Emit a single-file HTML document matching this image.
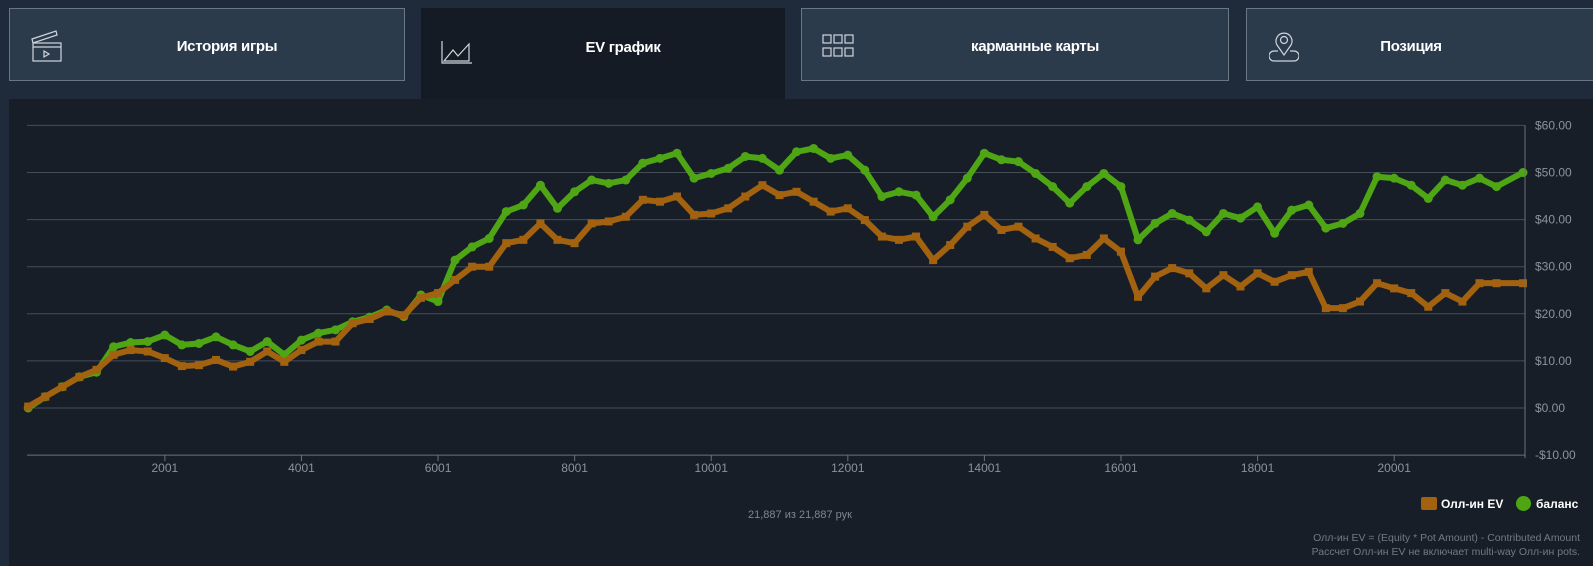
<!DOCTYPE html>
<html><head><meta charset="utf-8">
<style>
html,body{margin:0;padding:0;background:#1f2b3a;width:1593px;height:566px;overflow:hidden;font-family:"Liberation Sans","DejaVu Sans",sans-serif;}
.tab{position:absolute;top:8px;height:73px;background:#2c3b4c;border:1px solid #6a7684;box-sizing:border-box;color:#fff;font-weight:bold;font-size:15px;letter-spacing:-0.3px;}
.tab.active{background:#151b24;border:none;height:92px;}
.tab .lbl{position:absolute;top:4px;bottom:0;display:flex;align-items:center;justify-content:center;left:0;right:0;}
.tab svg{position:absolute;}
#panel{position:absolute;left:9px;top:99px;width:1584px;height:467px;background:#181e28;}
</style></head><body>
<div class="tab" style="left:9px;width:396px;">
 <svg style="left:20px;top:20px" width="34" height="34" viewBox="0 0 34 34" fill="none" stroke="#cfd6de" stroke-width="1.2"><path d="M2 10 L26 2 L27 6 L3 14 Z"/><rect x="3" y="14" width="28" height="18"/><line x1="3" y1="18" x2="31" y2="18"/><path d="M14 22 L19 25 L14 28 Z"/></svg>
 <div class="lbl" style="left:40px">История игры</div></div>
<div class="tab active" style="left:421px;width:364px;">
 <svg style="left:20px;top:32px" width="32" height="24" viewBox="0 0 32 24" fill="none" stroke="#cfd6de" stroke-width="1.2"><path d="M1 1 V23 H31"/><path d="M3 21 L12 10 L17 16 L28 4 V21 Z"/></svg>
 <div class="lbl" style="top:0;height:78px;left:40px">EV график</div></div>
<div class="tab" style="left:801px;width:428px;">
 <svg style="left:20px;top:25px" width="34" height="24" viewBox="0 0 34 24" fill="none" stroke="#cfd6de" stroke-width="1.2"><rect x="1" y="1" width="8" height="8"/><rect x="12" y="1" width="8" height="8"/><rect x="23" y="1" width="8" height="8"/><rect x="1" y="14" width="8" height="8"/><rect x="12" y="14" width="8" height="8"/><rect x="23" y="14" width="8" height="8"/></svg>
 <div class="lbl" style="left:40px">карманные карты</div></div>
<div class="tab" style="left:1246px;width:370px;">
 <svg style="left:22px;top:22px" width="30" height="34" viewBox="0 0 30 34" fill="none" stroke="#cfd6de" stroke-width="1.2"><path d="M15 24 L8 14 A8 8 0 1 1 22 14 Z"/><circle cx="15" cy="9" r="3.5"/><path d="M9 20 H5 A3 3 0 0 0 5 30 H25 A3 3 0 0 0 25 20 H21"/></svg>
 <div class="lbl" style="left:0;right:40px">Позиция</div></div>
<div id="panel"></div>
<svg id="chart" width="1593" height="566" style="position:absolute;left:0;top:0" font-family="Liberation Sans, DejaVu Sans, sans-serif">
 <g id="grid"></g><g id="series"></g><g id="axes"></g>
 <text x="800" y="518" text-anchor="middle" font-size="11" fill="#7d8792">21,887 из 21,887 рук</text>
 <g>
  <rect x="1421" y="497" width="16" height="13" rx="2" fill="#a2620f"/>
  <text x="1441" y="508" font-size="12" font-weight="bold" fill="#fff">Олл-ин EV</text>
  <circle cx="1523.5" cy="503.5" r="7.5" fill="#4ea615"/>
  <text x="1536" y="508" font-size="12" font-weight="bold" fill="#fff">баланс</text>
 </g>
 <text x="1580" y="541" text-anchor="end" font-size="10.5" fill="#6f7a86">Олл-ин EV = (Equity * Pot Amount) - Contributed Amount</text>
 <text x="1580" y="555" text-anchor="end" font-size="10.5" fill="#6f7a86">Рассчет Олл-ин EV не включает multi-way Олл-ин pots.</text>
</svg>
<script>
const hands=[0,250,500,750,1000,1250,1500,1750,2000,2250,2500,2750,3000,3250,3500,3750,4000,4250,4500,4750,5000,5250,5500,5750,6000,6250,6500,6750,7000,7250,7500,7750,8000,8250,8500,8750,9000,9250,9500,9750,10000,10250,10500,10750,11000,11250,11500,11750,12000,12250,12500,12750,13000,13250,13500,13750,14000,14250,14500,14750,15000,15250,15500,15750,16000,16250,16500,16750,17000,17250,17500,17750,18000,18250,18500,18750,19000,19250,19500,19750,20000,20250,20500,20750,21000,21250,21500,21887];
const allinEV=[0.3,2.4,4.5,6.6,8.1,11.3,12.3,12,10.6,8.9,9.1,10.2,8.8,9.8,12,9.8,12.3,14.1,14.1,18,18.9,20.5,19.7,23.4,24.4,27.2,30,30,35,35.7,39.2,35.7,35,39.2,39.6,40.6,44.2,43.8,44.9,41,41.3,42.4,44.9,47.3,45.2,45.9,43.8,41.7,42.4,39.9,36.4,35.7,36.4,31.4,34.6,38.5,41,37.8,38.5,36,34.2,31.8,32.5,36,33.2,23.6,27.9,29.7,28.6,25.4,28.2,25.8,28.6,26.8,28.2,28.9,21.2,21.2,22.6,26.5,25.4,24.4,21.5,24.4,22.6,26.5,26.5,26.5];
const balance=[0,2.4,4.5,6.6,7.6,13,13.9,14.1,15.5,13.4,13.7,15.1,13.4,12,14.1,11.3,14.4,15.9,16.6,18.3,19.3,20.8,19.4,24,22.6,31.4,34.2,36,41.7,43.1,47.3,42.4,45.9,48.4,47.7,48.4,52,53,54.1,48.8,49.8,50.9,53.4,53,50.5,54.4,55.1,53,53.7,50.5,44.9,45.9,45.2,40.6,44.2,48.8,54.1,52.7,52.3,49.8,47,43.5,47,49.8,47,35.7,39.2,41.3,39.9,37.4,41.3,40.3,42.7,37.1,42,43.1,38.2,39.2,41.3,49.1,48.8,47.3,44.5,48.4,47.3,48.8,47,50];
const yTicks=[60,50,40,30,20,10,0,-10];
const xTicks=[2001,4001,6001,8001,10001,12001,14001,16001,18001,20001];
const NS='http://www.w3.org/2000/svg';
const X0=28.2,X1=1523,HMAX=21887,Y0=408,PPU=4.71;
function xs(h){return X0+(h/HMAX)*(X1-X0);}
function ys(v){return Y0-v*PPU;}
function mk(tag,attrs,parent){const e=document.createElementNS(NS,tag);for(const k in attrs)e.setAttribute(k,attrs[k]);parent.appendChild(e);return e;}
const grid=document.getElementById('grid'),axes=document.getElementById('axes'),series=document.getElementById('series');
yTicks.forEach(v=>{
 const l=mk('line',{x1:27,x2:1525,y1:ys(v),y2:ys(v),stroke:v===-10?'#6a727c':'#454d57','stroke-width':1},grid);
 
 
 const t=mk('text',{x:1535,y:ys(v)+4,'font-size':12,fill:'#8a939d'},axes);
 
 
 t.textContent=(v<0?'-$':'$')+Math.abs(v).toFixed(2);
});
const ra=mk('line',{x1:1525,x2:1525,y1:ys(60),y2:ys(-10)+3,stroke:'#6a727c'},axes);


xTicks.forEach(h=>{
 const tk=mk('line',{x1:xs(h),x2:xs(h),y1:ys(-10),y2:ys(-10)+6,stroke:'#6a727c'},axes);
 
 
 const t=mk('text',{x:xs(h),y:ys(-10)+17,'font-size':12,fill:'#8a939d','text-anchor':'middle'},axes);
 
 
 t.textContent=h;
});
function draw(vals,color,name,square){
 const g=mk('g',{},series);
 
 
 const pts=hands.map((h,i)=>xs(h)+','+ys(vals[i])).join(' ');
 const pl=mk('polyline',{points:pts,fill:'none',stroke:color,'stroke-width':6,'stroke-linejoin':'round'},g);
 
 
 hands.forEach((h,i)=>{
  let m;
  if(square){m=mk('rect',{x:xs(h)-4,y:ys(vals[i])-4,width:8,height:8,fill:color},g);}
  else{m=mk('circle',{cx:xs(h),cy:ys(vals[i]),r:4.5,fill:color},g);}
  
  
 });
}
draw(balance,'#4ea615','balance',false);
draw(allinEV,'#a2620f','allin-ev',true);
</script>
</body></html>
